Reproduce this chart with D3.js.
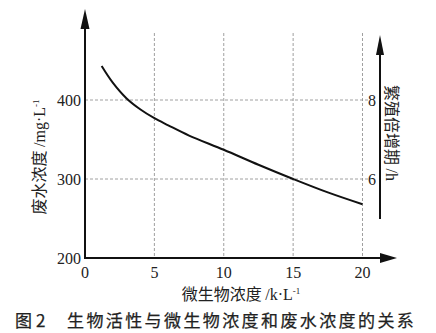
<!DOCTYPE html>
<html lang="zh">
<head>
<meta charset="UTF-8">
<script src="https://cdnjs.cloudflare.com/ajax/libs/d3/7.8.5/d3.min.js"></script>
<style>
  body { margin: 0; background: #fff; }
  svg { display: block; }
  .serif { font-family: "Liberation Serif", "DejaVu Serif", serif; fill: #222; }
  .cjk { font-family: "Noto Sans CJK SC", sans-serif; fill: #222; }
  .grid { stroke: #888; stroke-width: 0.8; stroke-dasharray: 3,2; }
</style>
</head>
<body>
<div id="chart"></div>
<script>
// 数据
const xTicks = [0, 5, 10, 15, 20];
const yTicks = [200, 300, 400];
const rightTickValues = [300, 400];
const rightTickLabels = ["6", "8"];
const curveX = [1.2, 2, 3, 4, 5, 6, 7.5, 10, 12.5, 15, 17.5, 20];
const curveY = [443, 422, 402, 388, 377, 368, 355, 337, 318, 300, 283, 268];

const W = 436, H = 333;
const svg = d3.select("#chart").append("svg").attr("width", W).attr("height", H);

const x = d3.scaleLinear().domain([0, 20]).range([85, 362.5]);
const y = d3.scaleLinear().domain([200, 400]).range([258, 100]);
const gridTop = 33;

// 网格
svg.append("g").selectAll("line").data(xTicks.filter(d => d > 0)).enter().append("line")
  .attr("class", "grid")
  .attr("x1", d => x(d)).attr("x2", d => x(d))
  .attr("y1", gridTop).attr("y2", y(200));
svg.append("g").selectAll("line").data(yTicks.filter(d => d > 200)).enter().append("line")
  .attr("class", "grid")
  .attr("x1", x(0)).attr("x2", 368)
  .attr("y1", d => y(d)).attr("y2", d => y(d));

// 坐标轴
const axisX0 = x(0), axisY0 = y(200);
svg.append("line").attr("x1", axisX0).attr("x2", axisX0).attr("y1", 26).attr("y2", axisY0 + 1)
  .attr("stroke", "#111").attr("stroke-width", 2);
svg.append("path").attr("d", `M${axisX0},9 L${axisX0 - 4.5},29 L${axisX0 + 4.5},29 Z`).attr("fill", "#111");

svg.append("line").attr("x1", axisX0 - 1).attr("x2", 382).attr("y1", axisY0).attr("y2", axisY0)
  .attr("stroke", "#111").attr("stroke-width", 2);
svg.append("path").attr("d", `M397,${axisY0} L380,${axisY0 - 5} L380,${axisY0 + 5} Z`).attr("fill", "#111");

const rx = 380;
svg.append("line").attr("x1", rx).attr("x2", rx).attr("y1", 50).attr("y2", 219)
  .attr("stroke", "#111").attr("stroke-width", 2);
svg.append("path").attr("d", `M${rx},35 L${rx - 4},55 L${rx + 4},55 Z`).attr("fill", "#111");

// 刻度标签
svg.append("g").selectAll("text").data(xTicks).enter().append("text")
  .attr("class", "serif").attr("font-size", 16)
  .attr("x", d => x(d)).attr("y", 278).attr("text-anchor", "middle")
  .text(d => d);
svg.append("g").selectAll("text").data(yTicks).enter().append("text")
  .attr("class", "serif").attr("font-size", 16)
  .attr("x", 81).attr("y", d => y(d) + 5.5).attr("text-anchor", "end")
  .text(d => d);
svg.append("g").selectAll("text").data(rightTickValues).enter().append("text")
  .attr("class", "serif").attr("font-size", 16)
  .attr("x", 372).attr("y", d => y(d) + 5.5).attr("text-anchor", "middle")
  .text((d, i) => rightTickLabels[i]);

// 曲线
const pts = curveX.map((d, i) => [d, curveY[i]]);
svg.append("path").datum(pts)
  .attr("fill", "none").attr("stroke", "#111").attr("stroke-width", 2)
  .attr("d", d3.line().x(d => x(d[0])).y(d => y(d[1])).curve(d3.curveCatmullRom));

// 轴标题
const lt = svg.append("text").attr("transform", "translate(45,157) rotate(-90)")
  .attr("text-anchor", "middle").attr("font-size", 16);
lt.append("tspan").attr("class", "cjk").text("废水浓度 ");
lt.append("tspan").attr("class", "serif").text("/mg·L");
lt.append("tspan").attr("class", "serif").attr("font-size", 9).attr("dy", -6).text("-1");

const rt = svg.append("text").attr("transform", "translate(386,133) rotate(90)")
  .attr("text-anchor", "middle").attr("font-size", 16);
rt.append("tspan").attr("class", "cjk").text("繁殖倍增期 ");
rt.append("tspan").attr("class", "serif").text("/h");

const xt = svg.append("text").attr("x", 241).attr("y", 300)
  .attr("text-anchor", "middle").attr("font-size", 16);
xt.append("tspan").attr("class", "cjk").text("微生物浓度 ");
xt.append("tspan").attr("class", "serif").text("/k·L");
xt.append("tspan").attr("class", "serif").attr("font-size", 9).attr("dy", -6).text("-1");

// 图题
const cap = svg.append("text").attr("y", 327).attr("font-size", 17)
  .attr("class", "cjk").attr("stroke", "#222").attr("stroke-width", 0.25);
cap.append("tspan").attr("x", 15).text("图");
cap.append("tspan").attr("x", 36).text("2");
cap.append("tspan").attr("x", 67).attr("letter-spacing", 2.4).text("生物活性与微生物浓度和废水浓度的关系");
</script>
</body>
</html>
